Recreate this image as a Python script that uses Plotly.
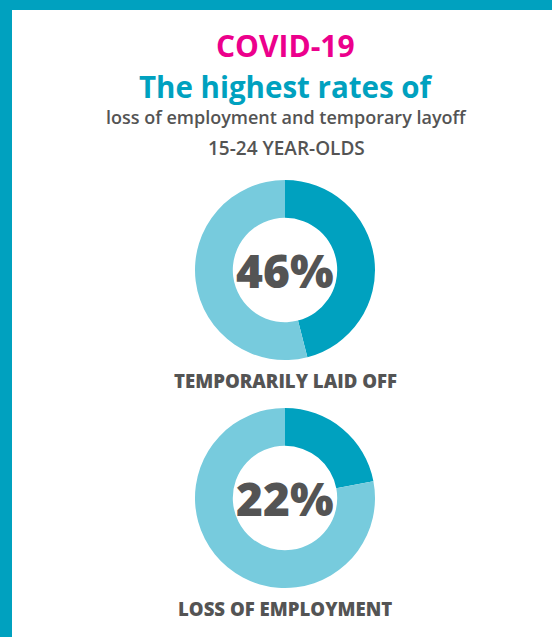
import plotly.graph_objects as go

# Shares of 15-24 year-olds affected
labels = ["Affected", "Other"]
laid_off = [46, 54]
lost_job = [22, 78]
center_labels = ["46%", "22%"]
captions = ["TEMPORARILY LAID OFF", "LOSS OF EMPLOYMENT"]

TEAL = "#00a1bf"
LIGHT = "#77cbdd"
MAGENTA = "#ec008c"
GRAY = "#545454"
FONT = "Open Sans"

W, H = 552, 637


def py(px):
    """Convert a pixel row (from top) to paper y."""
    return 1 - px / H


def px_x(px):
    return px / W


fig = go.Figure()

donuts = [(laid_off, 180, 360), (lost_job, 408, 588)]
for vals, top, bottom in donuts:
    fig.add_trace(go.Pie(
        labels=labels,
        values=vals,
        hole=0.58,
        sort=False,
        direction="clockwise",
        rotation=0,
        marker=dict(colors=[TEAL, LIGHT], line=dict(width=0)),
        textinfo="none",
        hoverinfo="skip",
        showlegend=False,
        domain=dict(x=[px_x(195), px_x(375)], y=[py(bottom), py(top)]),
    ))

annotations = [
    dict(text="COVID-19", x=px_x(285.5), y=py(45), font=dict(size=30, color=MAGENTA, family=FONT, weight=700)),
    dict(text="The highest rates of", x=px_x(286), y=py(86), font=dict(size=29.5, color=TEAL, family=FONT, weight=700)),
    dict(text="loss of employment and temporary layoff", x=px_x(286), y=py(117),
         font=dict(size=18, color=GRAY, family=FONT, weight=600)),
    dict(text="15-24 YEAR-OLDS", x=px_x(286), y=py(148), font=dict(size=19, color=GRAY, family=FONT, weight=600)),
    dict(text=center_labels[0], x=px_x(285), y=py(270), font=dict(size=46, color=GRAY, family=FONT, weight=800)),
    dict(text=captions[0], x=px_x(285), y=py(380), font=dict(size=18.6, color=GRAY, family=FONT, weight=800)),
    dict(text=center_labels[1], x=px_x(285), y=py(498), font=dict(size=46, color=GRAY, family=FONT, weight=800)),
    dict(text=captions[1], x=px_x(285), y=py(608), font=dict(size=18.6, color=GRAY, family=FONT, weight=800)),
]
for a in annotations:
    a.update(xref="paper", yref="paper", xanchor="center", yanchor="middle", showarrow=False)

# Frame: teal band along the top and the left edge
shapes = [
    dict(type="rect", xref="paper", yref="paper", x0=0, x1=1, y0=py(10), y1=1.0,
         fillcolor=TEAL, line=dict(width=0), layer="below"),
    dict(type="rect", xref="paper", yref="paper", x0=0, x1=px_x(12), y0=0, y1=1.0,
         fillcolor=TEAL, line=dict(width=0), layer="below"),
]

fig.update_layout(
    width=W, height=H,
    margin=dict(l=0, r=0, t=0, b=0),
    paper_bgcolor="white",
    plot_bgcolor="white",
    annotations=annotations,
    shapes=shapes,
)

fig.write_html("out.html")
